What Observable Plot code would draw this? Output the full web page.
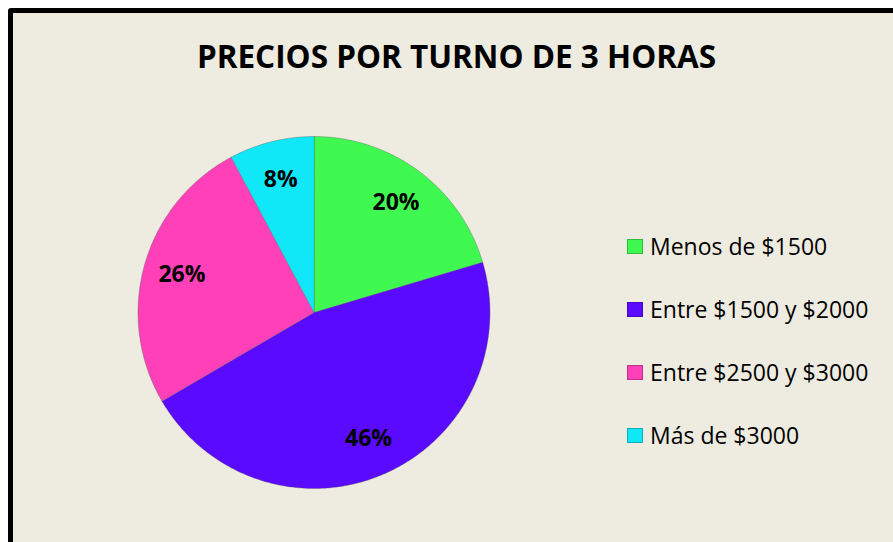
<!DOCTYPE html>
<html>
<head>
<meta charset="utf-8">
<script src="https://cdn.jsdelivr.net/npm/d3@7"></script>
<script src="https://cdn.jsdelivr.net/npm/@observablehq/plot@0.6"></script>
<style>
  html, body { margin: 0; padding: 0; background: #ffffff; }
  #wrap { position: relative; width: 893px; height: 542px; overflow: hidden; font-family: "Open Sans", sans-serif; }
  #frame { position: absolute; left: 8px; top: 8px; width: 900px; height: 560px; border: 5px solid #000; border-radius: 3px; background: #eeece1; box-sizing: border-box; }
  #chart { position: absolute; left: 0; top: 0; }
  #title { position: absolute; left: 0; width: 913px; top: 34px; text-align: center; font-weight: 700; font-size: 31.5px; color: #000; white-space: nowrap; }
  .legend-row { position: absolute; left: 627px; height: 30px; display: flex; align-items: center; font-size: 23px; color: #000; white-space: nowrap; }
  .sw { width: 16px; height: 15px; margin-right: 7px; box-sizing: border-box; }
</style>
</head>
<body>
<div id="wrap">
  <div id="frame"></div>
  <div id="chart"></div>
  <div id="title">PRECIOS POR TURNO DE 3 HORAS</div>
</div>
<script>
const categories = ["Menos de $1500", "Entre $1500 y $2000", "Entre $2500 y $3000", "Más de $3000"];
const values = [20.4, 46.2, 25.6, 7.8];
const colors = ["#3ff950", "#5a0aff", "#ff40b8", "#10e8f8"];
const legendRowsY = [246, 309, 372, 435];

const total = d3.sum(values);
// slice outlines in unit-circle data space (angles clockwise from top)
const slicePts = [];
const labels = [];
let cum = 0;
categories.forEach((c, i) => {
  const a0 = cum / total * 2 * Math.PI;
  cum += values[i];
  const a1 = cum / total * 2 * Math.PI;
  slicePts.push({cat: c, x: 0, y: 0});
  const n = Math.max(4, Math.ceil((a1 - a0) / 0.01));
  for (let k = 0; k <= n; k++) {
    const t = a0 + (a1 - a0) * k / n;
    slicePts.push({cat: c, x: Math.sin(t), y: Math.cos(t)});
  }
  const am = (a0 + a1) / 2;
  labels.push({cat: c, x: 0.78 * Math.sin(am), y: 0.78 * Math.cos(am), text: Math.round(values[i] / total * 100) + "%"});
});

const plot = Plot.plot({
  width: 893,
  height: 542,
  margin: 0,
  style: {background: "transparent", overflow: "visible"},
  x: {domain: [-1, 1], range: [137.5, 489.5], axis: null},
  y: {domain: [-1, 1], range: [488, 136], axis: null},
  color: {domain: categories, range: colors},
  marks: [
    Plot.line(slicePts, {x: "x", y: "y", z: "cat", fill: "cat", stroke: "#555", strokeOpacity: 0.35, strokeWidth: 1, curve: "linear-closed"}),
    Plot.text(labels, {x: "x", y: "y", text: "text", fontSize: 23, fontWeight: 700, fill: "#000", fontFamily: "Open Sans"})
  ]
});
document.getElementById("chart").appendChild(plot);

const wrap = document.getElementById("wrap");
categories.forEach((c, i) => {
  const row = document.createElement("div");
  row.className = "legend-row";
  row.style.top = (legendRowsY[i] - 15) + "px";
  const sw = document.createElement("div");
  sw.className = "sw";
  sw.style.background = colors[i];
  sw.style.border = "1px solid " + d3.color(colors[i]).darker(0.8);
  const tx = document.createElement("span");
  tx.textContent = c;
  row.appendChild(sw);
  row.appendChild(tx);
  wrap.appendChild(row);
});
</script>
</body>
</html>
